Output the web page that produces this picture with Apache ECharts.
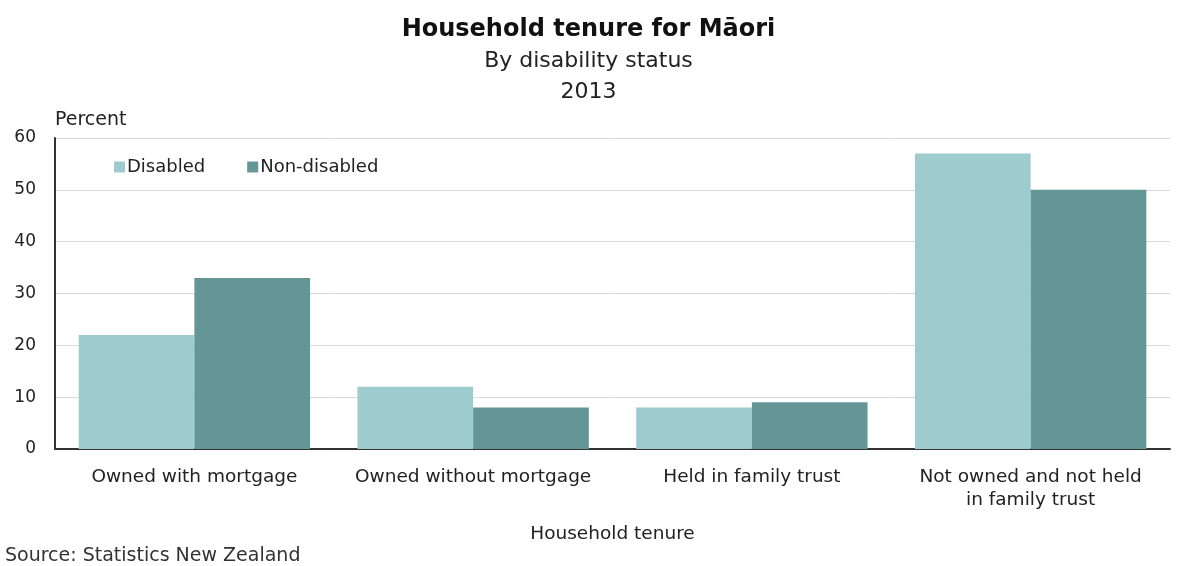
<!DOCTYPE html>
<html><head><meta charset="utf-8">
<script src="https://cdn.jsdelivr.net/npm/echarts@6/dist/echarts.min.js"></script>
<style>html,body{margin:0;padding:0;background:#fff}#c{width:1177px;height:566px}</style>
</head><body><div id="c"></div>
<script>
const categories = ['Owned with mortgage', 'Owned without mortgage', 'Held in family trust', 'Not owned and not held\nin family trust'];
const disabled = [22, 12, 8, 57];
const nonDisabled = [33, 8, 9, 50];
const yTicks = [0, 10, 20, 30, 40, 50, 60];

const FONT = '"DejaVu Sans", "Liberation Sans", Arial, sans-serif';
const chart = echarts.init(document.getElementById('c'));
chart.setOption({
  animation: false,
  backgroundColor: '#fff',
  textStyle: { fontFamily: FONT },
  title: [
    { text: 'Household tenure for Māori', left: 'center', top: 18, padding: 0, textStyle: { fontSize: 24, fontWeight: 'bold', color: '#111', fontFamily: FONT } },
    { text: 'By disability status', left: 'center', top: 50, padding: 0, textStyle: { fontSize: 22, fontWeight: 'normal', color: '#222', fontFamily: FONT } },
    { text: '2013', left: 'center', top: 81, padding: 0, textStyle: { fontSize: 22, fontWeight: 'normal', color: '#222', fontFamily: FONT } },
    { text: 'Source: Statistics New Zealand', left: 5, top: 547, padding: 0, textStyle: { fontSize: 19, fontWeight: 'normal', color: '#333', fontFamily: FONT } }
  ],
  legend: {
    left: 109, top: 153, itemWidth: 11, itemHeight: 11, itemGap: 42,
    icon: 'rect',
    textStyle: { fontSize: 18, color: '#222', fontFamily: FONT, padding: [0, 0, 0, -3] },
    data: ['Disabled', 'Non-disabled']
  },
  grid: { left: 55, right: 7, top: 138, bottom: 117 },
  xAxis: {
    type: 'category', data: categories,
    name: 'Household tenure', nameLocation: 'middle', nameGap: 76,
    nameTextStyle: { fontSize: 18.5, color: '#222', fontFamily: FONT },
    axisLine: { lineStyle: { color: '#333', width: 2 } },
    axisTick: { show: false },
    axisLabel: { interval: 0, fontSize: 18.5, color: '#222', margin: 17, lineHeight: 23, fontFamily: FONT }
  },
  yAxis: {
    type: 'value', min: 0, max: 60, interval: 10,
    name: 'Percent', nameLocation: 'end', nameGap: 8,
    nameTextStyle: { fontSize: 19, color: '#222', align: 'left', fontFamily: FONT },
    axisLine: { show: true, lineStyle: { color: '#333', width: 2 } },
    axisTick: { show: false },
    axisLabel: { fontSize: 17, color: '#222', margin: 19, fontFamily: FONT,
      formatter: v => yTicks.includes(v) ? String(v) : '' },
    splitLine: { lineStyle: { color: '#d9d9d9', width: 1 } }
  },
  series: [
    { name: 'Disabled', type: 'bar', data: disabled, barGap: '0%', barCategoryGap: '17%', itemStyle: { color: '#9DCBCE' } },
    { name: 'Non-disabled', type: 'bar', data: nonDisabled, barGap: '0%', barCategoryGap: '17%', itemStyle: { color: '#659696' } }
  ]
});
</script></body></html>
